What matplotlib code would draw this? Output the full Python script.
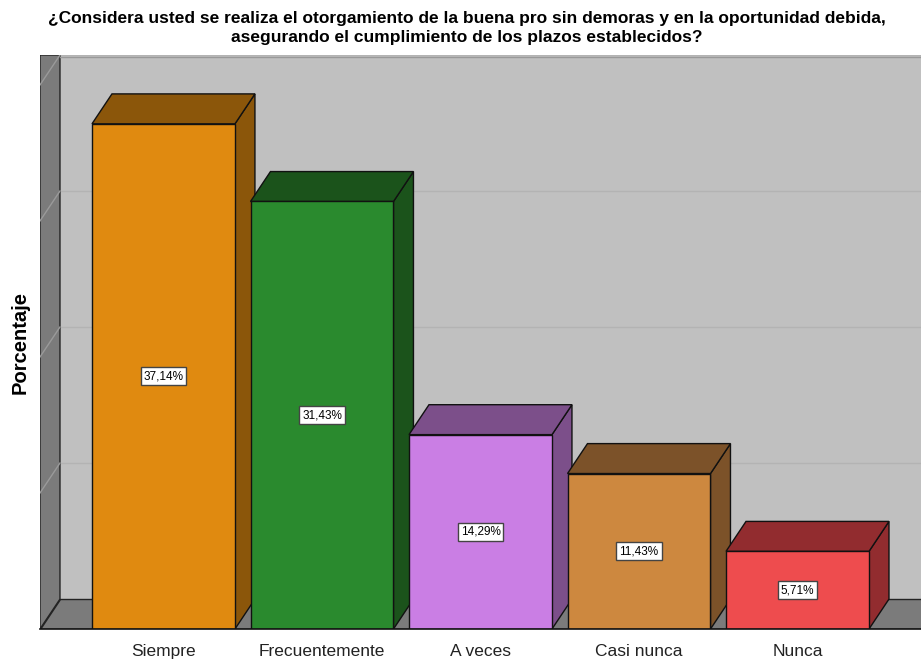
import matplotlib.pyplot as plt
from matplotlib.patches import Polygon, Rectangle

# datos del grafico
categorias = ['Siempre', 'Frecuentemente', 'A veces', 'Casi nunca', 'Nunca']
porcentajes = [37.14, 31.43, 14.29, 11.43, 5.71]
etiquetas = ['37,14%', '31,43%', '14,29%', '11,43%', '5,71%']
colores = ['#e08a10', '#2a8a2e', '#ca7ee4', '#cd883f', '#ee4c4e']
colores_osc = ['#8b560a', '#1b531b', '#7c4f8a', '#7c5229', '#922c2f']
lineas_grid = [10, 20, 30, 40]

titulo = ('¿Considera usted se realiza el otorgamiento de la buena pro sin demoras y en la oportunidad debida,\n'
          'asegurando el cumplimiento de los plazos establecidos?')

plt.rcParams['font.family'] = ['Liberation Sans', 'DejaVu Sans']

fig = plt.figure(figsize=(9.21, 6.61), dpi=100)
ax = fig.add_axes([40 / 921, 32 / 661, 881 / 921, 574 / 661])
x0, x1 = -0.779, 4.779
ytop = 42.2
ax.set_xlim(x0, x1)
ax.set_ylim(0, ytop)
ax.axis('off')

# profundidad 3D (en unidades de datos)
dx, dy = 0.126, 2.2
ancho = 0.902

# paredes
ax.add_patch(Rectangle((x0 + dx, dy), x1 - x0 - dx, ytop - dy, facecolor='#c0c0c0',
                       edgecolor='none', zorder=0))
ax.add_patch(Polygon([(x0, 0), (x0 + dx, dy), (x0 + dx, ytop), (x0, ytop)],
                     facecolor='#7b7b7b', edgecolor='#222222', lw=1, zorder=1))
ax.add_patch(Polygon([(x0, 0), (x1 + 0.1, 0), (x1 + 0.1, dy), (x0 + dx, dy)],
                     facecolor='#7b7b7b', edgecolor='#222222', lw=1, zorder=1))
ax.plot([x0 + dx, x1], [ytop - 0.15, ytop - 0.15], color='#999999', lw=1, zorder=1)
for g in lineas_grid:
    ax.plot([x0 + dx, x1], [g + dy, g + dy], color='#b3b3b3', lw=1, zorder=0.5)
    ax.plot([x0, x0 + dx], [g, g + dy], color='#9a9a9a', lw=1, zorder=1.5)

# barras 3D
for i, (v, c, co, lab) in enumerate(zip(porcentajes, colores, colores_osc, etiquetas)):
    xl = i - ancho / 2
    xr = i + ancho / 2
    z = 2 + i
    ax.add_patch(Polygon([(xr, 0), (xr + dx, dy), (xr + dx, v + dy), (xr, v)],
                         facecolor=co, edgecolor='#111111', lw=1, zorder=z))
    ax.add_patch(Polygon([(xl, v), (xl + dx, v + dy), (xr + dx, v + dy), (xr, v)],
                         facecolor=co, edgecolor='#111111', lw=1, zorder=z))
    ax.add_patch(Rectangle((xl, 0), ancho, v, facecolor=c, edgecolor='#111111',
                           lw=1, zorder=z + 0.1))
    ax.text(i, v / 2, lab, ha='center', va='center', fontsize=8.5, zorder=20,
            bbox=dict(boxstyle='square,pad=0.25', facecolor='white', edgecolor='#444444', lw=1))
    ax.annotate(categorias[i], (i, 0), xytext=(0, -16.5), textcoords='offset points',
                ha='center', va='center', fontsize=12.5, color='#222222', annotation_clip=False)

ax.plot([x0, x1], [0, 0], color='#111111', lw=1.2, zorder=10, clip_on=False)

fig.text(0.507, 1 - 11 / 661, titulo, ha='center', va='top', fontsize=12.5,
         fontweight='bold', linespacing=1.3)
fig.text(20 / 921, 1 - 343 / 661, 'Porcentaje', rotation=90, ha='center', va='center',
         fontsize=14.5, fontweight='bold')

fig.savefig('out.png', dpi=100)
